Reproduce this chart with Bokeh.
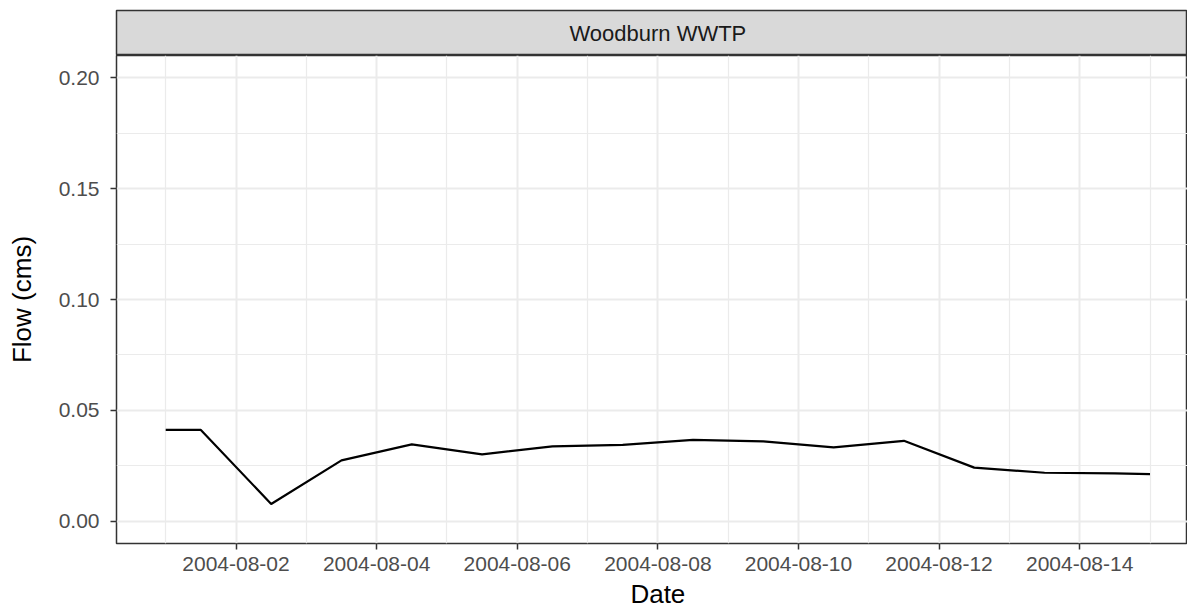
from datetime import datetime, timedelta
from bokeh.plotting import figure
from bokeh.layouts import column
from bokeh.models import (ColumnDataSource, Range1d, FixedTicker, DatetimeTickFormatter,
                          NumeralTickFormatter, Label)
from bokeh.embed import file_html
from bokeh.resources import INLINE

# ---- data ----
site = "Woodburn WWTP"
dates = ["2004-08-01 00:00", "2004-08-01 12:00", "2004-08-02 12:00", "2004-08-03 12:00",
         "2004-08-04 12:00", "2004-08-05 12:00", "2004-08-06 12:00", "2004-08-07 12:00",
         "2004-08-08 12:00", "2004-08-09 12:00", "2004-08-10 12:00", "2004-08-11 12:00",
         "2004-08-12 12:00", "2004-08-13 12:00", "2004-08-14 12:00", "2004-08-15 00:00"]
flow = [0.0412, 0.0412, 0.0078, 0.0275, 0.0347, 0.0302, 0.0338, 0.0345,
        0.0367, 0.0360, 0.0333, 0.0363, 0.0242, 0.0219, 0.0216, 0.0213]
x_tick_dates = ["2004-08-02", "2004-08-04", "2004-08-06", "2004-08-08",
                "2004-08-10", "2004-08-12", "2004-08-14"]
x_minor_dates = ["2004-07-31", "2004-08-01", "2004-08-03", "2004-08-05", "2004-08-07",
                 "2004-08-09", "2004-08-11", "2004-08-13", "2004-08-15"]
y_ticks = [0.0, 0.05, 0.10, 0.15, 0.20]
y_minor = [0.025, 0.075, 0.125, 0.175]
y_limits = [0.0, 0.20]
x_title = "Date"
y_title = "Flow (cms)"

FONT = "Liberation Sans"

def to_dt(s):
    fmt = "%Y-%m-%d %H:%M" if " " in s else "%Y-%m-%d"
    return datetime.strptime(s, fmt)

def ms(d):
    return (d - datetime(1970, 1, 1)).total_seconds() * 1000.0

xd = [to_dt(s) for s in dates]
src = ColumnDataSource(dict(x=xd, y=flow))

span = xd[-1] - xd[0]
x_start = xd[0] - span * 0.05
x_end = xd[-1] + span * 0.05 - timedelta(hours=4)   # reference is cropped at the right edge
yspan = y_limits[1] - y_limits[0]
y_start = y_limits[0] - 0.05 * yspan
y_end = y_limits[1] + 0.05 * yspan

xr = Range1d(x_start, x_end)
mid = xd[0] + span / 2

W = 1187
LEFT = 116
STRIP_H = 55
MAIN_H = 523
BOTTOM = 35
TITLE_H = 30

# ---- facet strip ----
strip = figure(width=W, height=STRIP_H, x_range=xr, y_range=Range1d(0, 1),
               x_axis_type="datetime", output_backend="svg", toolbar_location=None,
               min_border_left=LEFT, min_border_right=0, min_border_top=10, min_border_bottom=0)
strip.axis.visible = False
strip.grid.visible = False
strip.background_fill_color = "#d9d9d9"
strip.border_fill_color = "white"
strip.outline_line_color = "#333333"
strip.outline_line_width = 1.5
strip.add_layout(Label(x=mid, y=0.5, text=site, text_align="center", text_baseline="middle",
                       text_font=FONT, text_font_size="22px", text_color="#1a1a1a"))

# ---- main panel ----
p = figure(width=W, height=MAIN_H, x_range=xr, y_range=Range1d(y_start, y_end),
           x_axis_type="datetime", output_backend="svg", toolbar_location=None,
           min_border_left=LEFT, min_border_right=0, min_border_top=0, min_border_bottom=BOTTOM)
p.background_fill_color = "white"
p.outline_line_color = "#333333"
p.outline_line_width = 1.5

p.line("x", "y", source=src, line_color="black", line_width=2.2)

p.xaxis.ticker = FixedTicker(ticks=[ms(to_dt(s)) for s in x_tick_dates],
                             minor_ticks=[ms(to_dt(s)) for s in x_minor_dates])
fmt = "%Y-%m-%d"
p.xaxis.formatter = DatetimeTickFormatter(microseconds=fmt, milliseconds=fmt, seconds=fmt,
                                          minsec=fmt, minutes=fmt, hourmin=fmt, hours=fmt,
                                          days=fmt, months=fmt, years=fmt)
p.yaxis.ticker = FixedTicker(ticks=y_ticks, minor_ticks=y_minor)
p.yaxis.formatter = NumeralTickFormatter(format="0.00")

p.yaxis.axis_label = y_title

for ax in (p.xaxis, p.yaxis):
    ax.axis_line_color = None
    ax.major_tick_line_color = "#333333"
    ax.major_tick_line_width = 1.5
    ax.major_tick_out = 6
    ax.major_tick_in = 0
    ax.minor_tick_line_color = None
    ax.major_label_text_font = FONT
    ax.major_label_text_font_size = "21px"
    ax.major_label_text_color = "#4d4d4d"
    ax.axis_label_text_font = FONT
    ax.axis_label_text_font_size = "26px"
    ax.axis_label_text_font_style = "normal"
    ax.axis_label_text_color = "black"

p.xaxis.major_label_standoff = 7
p.yaxis.major_label_standoff = 11
p.yaxis.axis_label_standoff = 19

for g in (p.xgrid, p.ygrid):
    g.grid_line_color = "#ebebeb"
    g.grid_line_width = 2.0
    g.minor_grid_line_color = "#ebebeb"
    g.minor_grid_line_width = 1.2

# ---- x-axis title row ----
xt = figure(width=W, height=TITLE_H, x_range=xr, y_range=Range1d(0, TITLE_H),
            x_axis_type="datetime", output_backend="svg", toolbar_location=None,
            min_border_left=LEFT, min_border_right=0, min_border_top=0, min_border_bottom=0)
xt.axis.visible = False
xt.grid.visible = False
xt.outline_line_color = None
xt.background_fill_color = "white"
xt.border_fill_color = "white"
xt.add_layout(Label(x=mid, y=TITLE_H, text=x_title, text_align="center",
                    text_baseline="top", text_font=FONT, text_font_size="26px",
                    text_color="black"))

layout = column(strip, p, xt, spacing=0)
open("out.html", "w").write(file_html(layout, INLINE))
